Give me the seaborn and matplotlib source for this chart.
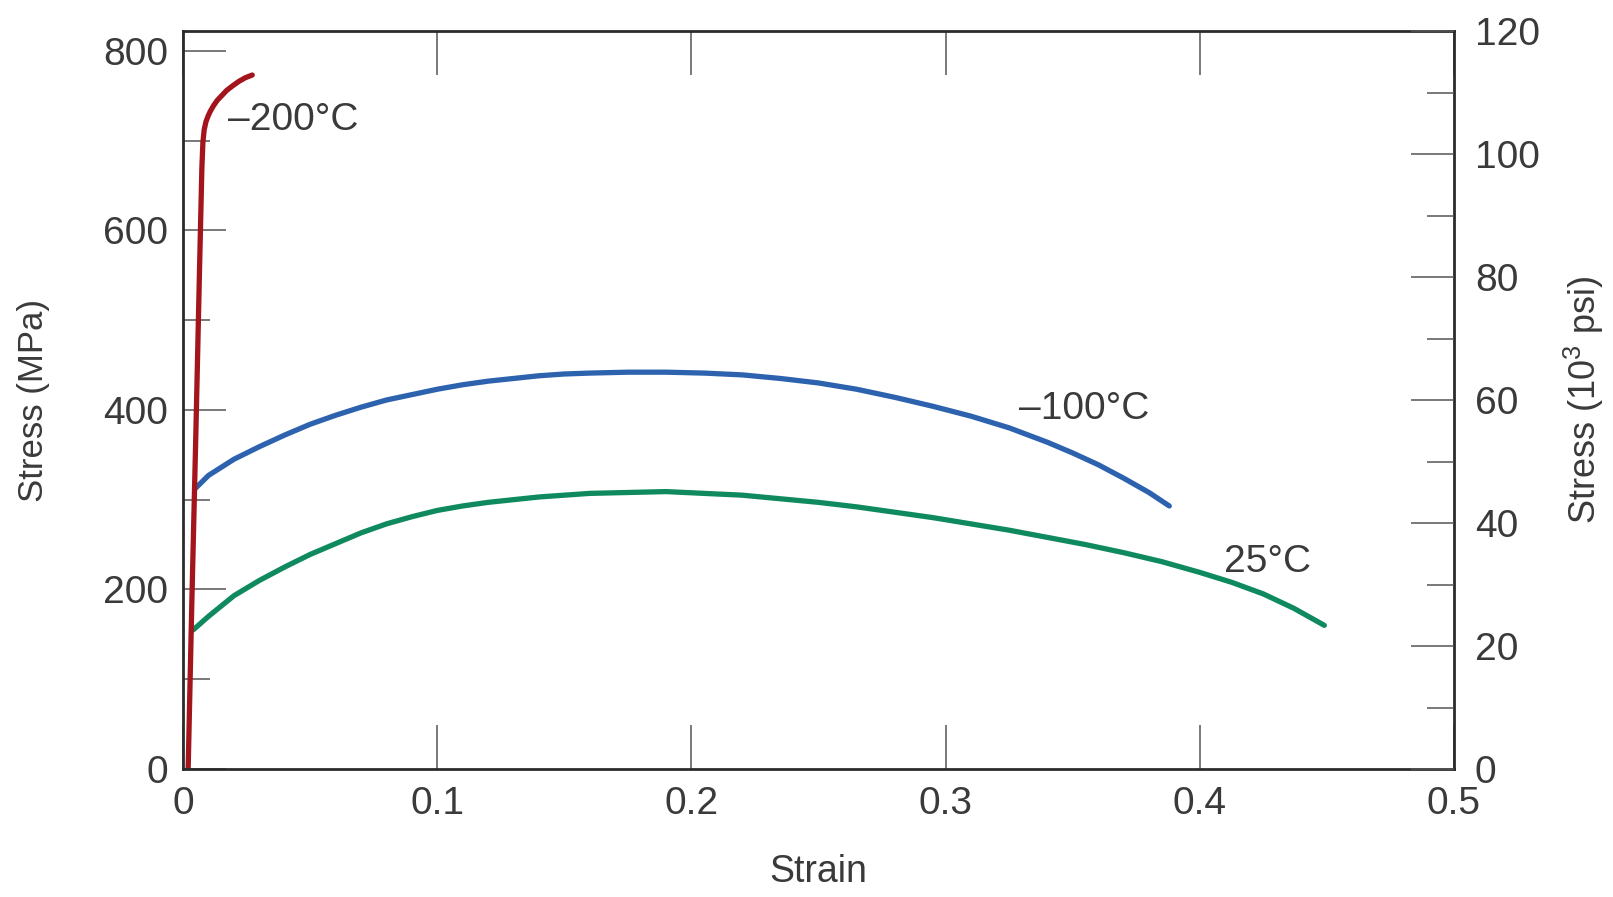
import numpy as np
import pandas as pd
import matplotlib
matplotlib.use("Agg")
import matplotlib.pyplot as plt
from matplotlib.ticker import MultipleLocator
import seaborn as sns

# ---- data (strain, stress in MPa) ----
red_strain = [0.0020, 0.0034, 0.0050, 0.0065, 0.0074, 0.0078, 0.0083, 0.0090, 0.0098, 0.0106, 0.0120, 0.0135, 0.0152, 0.0172, 0.0195, 0.0220, 0.0245, 0.0272]
red_stress = [0, 180, 370, 560, 670, 698, 712, 721, 727, 732, 739, 745, 750, 756, 761, 766, 770, 773]

blue_strain = [0.0050, 0.01, 0.02, 0.03, 0.04, 0.05, 0.06, 0.07, 0.08, 0.09, 0.10, 0.11, 0.12, 0.13, 0.14, 0.15, 0.16, 0.175, 0.19, 0.205,
               0.22, 0.235, 0.25, 0.265, 0.28, 0.295, 0.31, 0.325, 0.34, 0.35, 0.36, 0.37, 0.38, 0.388]
blue_stress = [313, 327, 345, 359, 372, 384, 394, 403, 411, 417, 423, 428, 432, 435, 438, 440, 441, 442, 442, 441,
               439, 435, 430, 423, 414, 404, 393, 380, 364, 352, 339, 324, 308, 293]

green_strain = [0.0040, 0.01, 0.02, 0.03, 0.04, 0.05, 0.06, 0.07, 0.08, 0.09, 0.10, 0.11, 0.12, 0.13, 0.14, 0.15, 0.16, 0.175, 0.19, 0.205,
                0.22, 0.235, 0.25, 0.265, 0.28, 0.295, 0.31, 0.325, 0.34, 0.355, 0.37, 0.385, 0.40, 0.4125, 0.425, 0.437, 0.449]
green_stress = [155, 170, 193, 210, 225, 239, 251, 263, 273, 281, 288, 293, 297, 300, 303, 305, 307, 308, 309, 307,
                305, 301, 297, 292, 286, 280, 273, 266, 258, 250, 241, 231, 219, 208, 195, 179, 160]

series_names = ["–200°C", "–100°C", "25°C"]
series_colors = ["#a3141c", "#2d62ae", "#0f8a5f"]
label_strain = [0.0177, 0.329, 0.4094]
label_stress = [723, 401, 231]

x_ticks = [0, 0.1, 0.2, 0.3, 0.4, 0.5]
x_tick_labels = ["0", "0.1", "0.2", "0.3", "0.4", "0.5"]
mpa_ticks = [0, 200, 400, 600, 800]
ksi_ticks = [0, 20, 40, 60, 80, 100, 120]

df = pd.concat([
    pd.DataFrame({"strain": green_strain, "stress": green_stress, "temp": series_names[2]}),
    pd.DataFrame({"strain": blue_strain, "stress": blue_stress, "temp": series_names[1]}),
    pd.DataFrame({"strain": red_strain, "stress": red_stress, "temp": series_names[0]}),
], ignore_index=True)

sns.set_theme(style="white")
plt.rcParams["font.family"] = ["Liberation Sans", "DejaVu Sans"]
plt.rcParams["mathtext.default"] = "regular"
TXT = "#3a3a3a"

fig = plt.figure(figsize=(16.13, 8.97), dpi=100)
ax = fig.add_axes([0.1135, 0.1427, 0.9014 - 0.1135, 0.9654 - 0.1427])

sns.lineplot(data=df, x="strain", y="stress", hue="temp",
             hue_order=[series_names[2], series_names[1], series_names[0]],
             palette={n: c for n, c in zip(series_names, series_colors)},
             sort=False, estimator=None, legend=False, linewidth=3.8, ax=ax)
for ln in ax.get_lines():
    ln.set_solid_capstyle("round")
    ln.set_solid_joinstyle("round")

ax.set_xlim(0, 0.5)
ax.set_ylim(0, 822)
ax.set_xticks(x_ticks)
ax.set_xticklabels(x_tick_labels)
ax.set_yticks(mpa_ticks)
ax.yaxis.set_minor_locator(MultipleLocator(100))

for s in ax.spines.values():
    s.set_visible(True)
    s.set_color("#2b2b2b")
    s.set_linewidth(2.0)

ax.tick_params(axis="x", which="major", direction="in", length=32, width=1.1,
               color="#555555", top=True, bottom=True, labelsize=28,
               labelcolor=TXT, pad=12)
ax.tick_params(axis="y", which="major", direction="in", length=31, width=1.1,
               color="#555555", left=True, right=False, labelsize=28,
               labelcolor=TXT, pad=11)
ax.tick_params(axis="y", which="minor", direction="in", length=19.5, width=1.1,
               color="#555555", left=True, right=False)

ax.set_xlabel("Strain", fontsize=27, color=TXT)
ax.set_ylabel("Stress (MPa)", fontsize=25, color=TXT)
ax.xaxis.set_label_coords(0.5, -0.115)
ax.yaxis.set_label_coords(-0.105, 0.5)

for name, xs, ys in zip(series_names, label_strain, label_stress):
    ax.text(xs, ys, name, fontsize=28, color=TXT, ha="left", va="center")

ax2 = ax.twinx()
ax2.set_ylim(0, 120)
ax2.set_yticks(ksi_ticks)
ax2.yaxis.set_minor_locator(MultipleLocator(10))
ax2.tick_params(axis="y", which="major", direction="in", length=31, width=1.1,
                color="#555555", right=True, left=False, labelsize=28,
                labelcolor=TXT, pad=15)
ax2.tick_params(axis="y", which="minor", direction="in", length=19.5, width=1.1,
                color="#555555", right=True, left=False)
for s in ax2.spines.values():
    s.set_visible(False)
ax2.grid(False)
ax2.set_ylabel("Stress (10$^{3}$ psi)", fontsize=26, color=TXT, rotation=90)
ax2.yaxis.set_label_coords(1.085, 0.5)

fig.savefig("out.png", dpi=100, facecolor="white")
